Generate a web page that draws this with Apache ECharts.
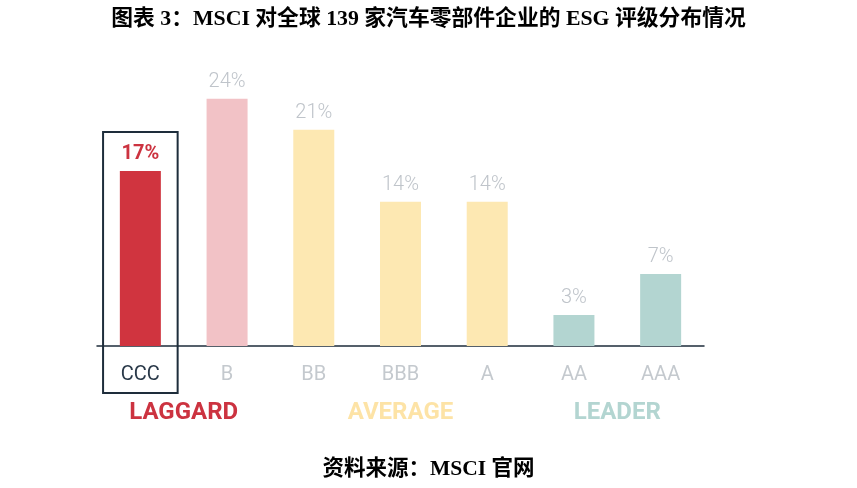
<!DOCTYPE html>
<html><head><meta charset="utf-8">
<script src="https://cdn.jsdelivr.net/npm/echarts@6/dist/echarts.min.js"></script>
<style>html,body{margin:0;padding:0;background:#fff}#c{width:857px;height:488px}</style>
</head><body><div id="c"></div>
<script>
var categories = ['CCC','B','BB','BBB','A','AA','AAA'];
var values = [17,24,21,14,14,3,7];
var barColors = ['#d0343f','#f2c2c6','#fde8b2','#fde8b2','#fde8b2','#b3d5d1','#b3d5d1'];
var groups = [
  {name:'LAGGARD', from:0, to:1, color:'#cc3340'},
  {name:'AVERAGE', from:2, to:4, color:'#fde3a6'},
  {name:'LEADER', from:5, to:6, color:'#b3d5d1'}
];
var titleText = '图表 3：MSCI 对全球 139 家汽车零部件企业的 ESG 评级分布情况';
var sourceText = '资料来源：MSCI 官网';

var chart = echarts.init(document.getElementById('c'));
var serif = '"Liberation Serif","Times New Roman","Noto Sans CJK SC",serif';
var option = {
  animation:false,
  title:[
    {text:titleText,left:'center',top:3,textStyle:{fontFamily:serif,fontSize:21.8,fontWeight:'bold',color:'#000'}},
    {text:sourceText,left:'center',top:454,textStyle:{fontFamily:serif,fontSize:21.5,fontWeight:'bold',color:'#000'}}
  ],
  grid:{left:97,right:153,top:37,bottom:142},
  xAxis:{type:'category',data:categories,
    axisLine:{lineStyle:{color:'#1e2d3b',width:1.5}},
    axisTick:{show:false},
    axisLabel:{fontFamily:'Roboto',fontSize:20,margin:19,
      color:function(v,i){return v==='CCC'?'#2b3a4a':'#c4c9ce';}}
  },
  yAxis:{type:'value',min:0,max:30,show:false,splitLine:{show:false}},
  series:[{type:'bar',barWidth:41,
    data:values.map(function(v,i){
      return {value:v,itemStyle:{color:barColors[i]},
        label:i===0?{color:'#cc3340',fontWeight:'bold'}:{}};
    }),
    label:{show:true,position:'top',distance:7,fontFamily:'Roboto',fontSize:20,fontWeight:300,color:'#bfc4ca',
      formatter:function(p){return p.value+'%';}}
  }]
};
chart.setOption(option);

var g = [];
var x0 = chart.convertToPixel({xAxisIndex:0},0);
var x1 = chart.convertToPixel({xAxisIndex:0},1);
var band = x1 - x0;
var yTop = chart.convertToPixel({yAxisIndex:0},values[0]);
var yAxisPix = chart.convertToPixel({yAxisIndex:0},0);
g.push({type:'rect',shape:{x:x0-band*0.43,y:yTop-39,width:band*0.86,height:(yAxisPix+47)-(yTop-39)},
  style:{fill:'none',stroke:'#1e2d3b',lineWidth:2}});
groups.forEach(function(gr){
  var a = chart.convertToPixel({xAxisIndex:0},gr.from);
  var b = chart.convertToPixel({xAxisIndex:0},gr.to);
  g.push({type:'text',x:(a+b)/2,y:yAxisPix+67,
    style:{text:gr.name,fill:gr.color,font:'bold 24px Roboto',textAlign:'center',textVerticalAlign:'middle'}});
});
chart.setOption({graphic:g});
</script></body></html>
